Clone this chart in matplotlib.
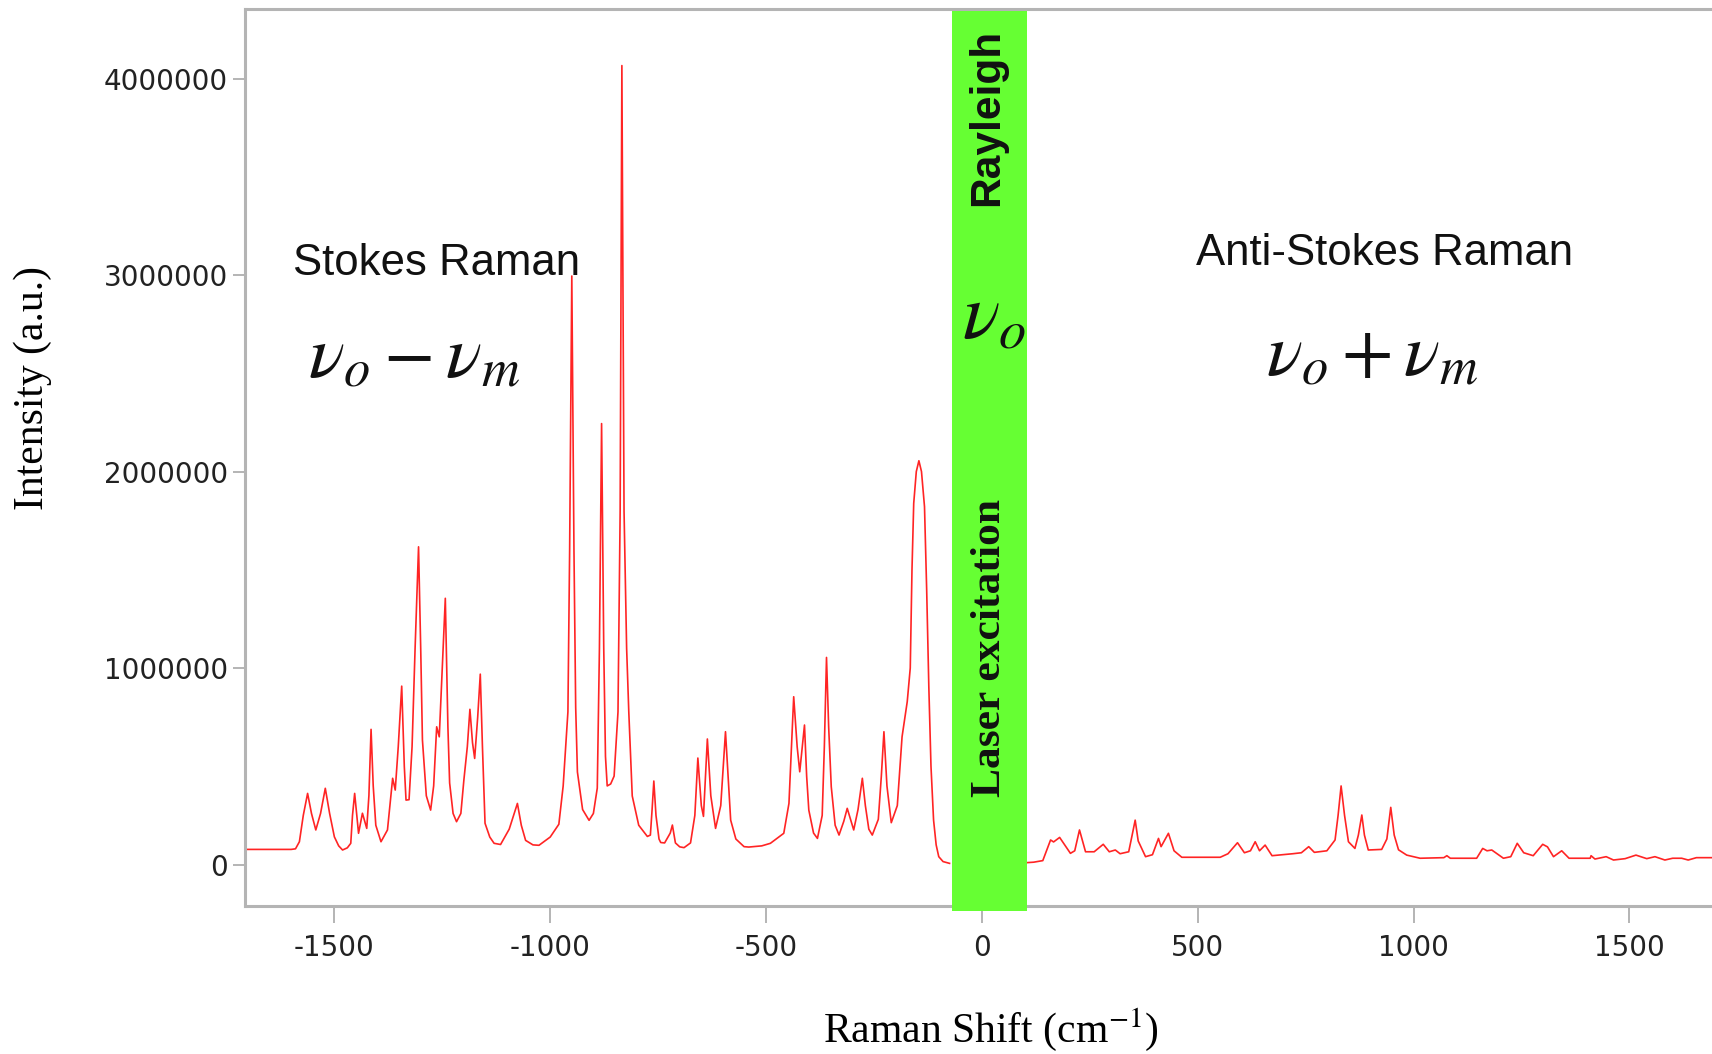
import numpy as np
import matplotlib.pyplot as plt

plt.rcParams.update({
    "mathtext.fontset": "stix",
    "axes.unicode_minus": False,
})

# Raman spectrum trace: shift in cm-1, intensity in thousands of counts
shift = [
    -1760, -1600, -1590, -1581, -1572, -1562, -1553, -1543, -1532, -1521,
    -1511, -1500, -1490, -1481, -1470, -1462, -1458, -1453, -1448, -1444,
    -1435, -1425, -1420, -1415, -1410, -1404, -1392, -1377, -1365, -1359,
    -1352, -1344, -1338, -1334, -1327, -1320, -1313, -1305, -1300, -1296,
    -1287, -1277, -1270, -1263, -1257, -1250, -1243, -1237, -1233, -1225,
    -1217, -1207, -1200, -1192, -1186, -1180, -1175, -1168, -1162, -1157,
    -1151, -1140, -1130, -1115, -1095, -1076, -1067, -1057, -1040, -1026,
    -1000, -980, -970, -959, -955, -950, -945, -941, -937, -925,
    -910, -900, -891, -886, -881, -876, -872, -868, -860, -852,
    -843, -838, -834, -829, -823, -818, -810, -795, -775, -768,
    -764, -760, -755, -748, -744, -735, -722, -717, -710, -700,
    -690, -675, -665, -658, -650, -645, -636, -628, -617, -605,
    -594, -588, -582, -570, -551, -540, -510, -490, -459, -447,
    -436, -428, -422, -411, -406, -401, -390, -381, -370, -365,
    -360, -355, -349, -340, -331, -320, -312, -297, -287, -277,
    -270, -262, -254, -240, -233, -227, -220, -210, -196, -185,
    -173, -166, -162, -158, -152, -146, -140, -133, -128, -123,
    -118, -112, -106, -100, -90, -75,
    100, 120, 141, 159, 166, 180, 205, 215, 226, 240,
    260, 281, 295, 309, 320, 340, 348, 355, 362, 379,
    395, 409, 415, 432, 445, 463, 552, 570, 592, 608,
    622, 633, 643, 656, 672, 720, 740, 757, 770, 799,
    818, 825, 832, 840, 849, 864, 872, 880, 886, 895,
    926, 938, 947, 955, 965, 984, 1015, 1070, 1077, 1085,
    1146, 1160, 1170, 1181, 1208, 1225, 1240, 1255, 1277, 1299,
    1310, 1324, 1343, 1360, 1409, 1411, 1420, 1446, 1463, 1490,
    1515, 1540, 1559, 1582, 1600, 1621, 1636, 1655, 1700, 1760,
]
intensity_k = [
    77, 77, 80, 116, 250, 362, 260, 176, 260, 388,
    260, 141, 95, 74, 85, 108, 250, 362, 250, 159,
    261, 184, 350, 688, 400, 200, 116, 176, 439, 379,
    600, 908, 500, 328, 330, 600, 1100, 1617, 1100, 634,
    350, 277, 400, 701, 650, 1000, 1355, 700, 415, 260,
    218, 260, 430, 600, 790, 620, 540, 750, 969, 600,
    210, 140, 108, 102, 180, 311, 200, 123, 100, 98,
    140, 205, 400, 777, 1600, 2995, 1600, 800, 471, 280,
    225, 260, 389, 1100, 2244, 1100, 550, 400, 410, 450,
    777, 1800, 4066, 1800, 1100, 777, 349, 200, 143, 150,
    280, 425, 250, 130, 112, 110, 160, 201, 110, 90,
    86, 110, 250, 542, 300, 245, 639, 350, 184, 300,
    676, 450, 226, 130, 91, 89, 95, 108, 159, 311,
    854, 600, 472, 710, 450, 277, 160, 133, 250, 600,
    1054, 700, 396, 200, 150, 220, 286, 176, 280, 439,
    300, 180, 150, 230, 450, 676, 400, 213, 300, 650,
    829, 1000, 1500, 1838, 2000, 2055, 2000, 1821, 1400, 905,
    500, 226, 100, 40, 15, 6,
    9, 12, 20, 125, 115, 138, 57, 70, 176, 65,
    65, 103, 65, 74, 55, 65, 150, 226, 120, 40,
    50, 133, 91, 159, 70, 37, 37, 55, 111, 60,
    70, 116, 70, 99, 45, 55, 60, 91, 62, 70,
    125, 250, 400, 250, 116, 82, 150, 252, 150, 74,
    77, 130, 291, 150, 75, 48, 32, 35, 45, 32,
    32, 82, 70, 74, 32, 40, 108, 60, 45, 103,
    90, 40, 70, 32, 32, 45, 28, 40, 23, 30,
    48, 30, 40, 23, 32, 32, 23, 35, 35, 35,
]
# the Rayleigh line region is masked, so the trace breaks across it
gap_after = -75

x_ticks = [-1500, -1000, -500, 0, 500, 1000, 1500]
x_tick_labels = ["-1500", "-1000", "-500", "0", "500", "1000", "1500"]
y_ticks = [0, 1000000, 2000000, 3000000, 4000000]
y_tick_labels = ["0", "1000000", "2000000", "3000000", "4000000"]

rayleigh_band = (-69, 104)

x = np.array(shift, dtype=float)
y = np.array(intensity_k, dtype=float) * 1000
split = np.searchsorted(x, gap_after, side="right")

fig = plt.figure(figsize=(17.12, 10.54), dpi=100)
ax = fig.add_axes([245 / 1712, 1 - 906 / 1054, 1495 / 1712, 897 / 1054])

ax.plot(x[:split], y[:split], color="#ff2424", lw=1.2, zorder=2)
ax.plot(x[split:], y[split:], color="#ff2424", lw=1.2, zorder=2)

ax.axvspan(*rayleigh_band, ymin=-0.006, ymax=0.998, color="#66ff33",
           lw=0, zorder=2.6, clip_on=False)

ax.set_xlim(-1707, 1756)
ax.set_ylim(-211000, 4354000)
ax.set_xticks(x_ticks)
ax.set_xticklabels(x_tick_labels)
ax.set_yticks(y_ticks)
ax.set_yticklabels(y_tick_labels)

for side in ("left", "bottom", "top"):
    ax.spines[side].set_color("#b4b4b4")
    ax.spines[side].set_linewidth(2.2)
ax.spines["right"].set_visible(False)

ax.tick_params(axis="y", length=8.6, width=1.2, color="#a8a8a8", pad=3.6,
               labelsize=20, labelcolor="#222222")
ax.tick_params(axis="x", length=12, width=1.2, color="#a8a8a8", pad=8,
               labelsize=20, labelcolor="#222222")

ax.set_xlabel("Raman Shift (cm$^{-1}$)", family="Liberation Serif",
              fontsize=30, va="center")
ax.xaxis.set_label_coords(0.499, -0.138)
ax.set_ylabel("Intensity (a.u.)", family="Liberation Serif", fontsize=30,
              va="center")
ax.yaxis.set_label_coords(-0.142, 0.577)

# region annotations
sans = "Liberation Sans"
ax.text(-1595, 3.0e6, "Stokes Raman", family=sans, fontsize=31.5,
        ha="left", va="baseline", color="#111111", zorder=4)
ax.text(495, 3.05e6, "Anti-Stokes Raman", family=sans, fontsize=31.5,
        ha="left", va="baseline", color="#111111", zorder=4)
ax.text(-1562, 2.48e6, r"$\nu_o - \nu_m$", fontsize=54,
        ha="left", va="baseline", color="#111111", zorder=4)
ax.text(657, 2.49e6, r"$\nu_o + \nu_m$", fontsize=54,
        ha="left", va="baseline", color="#111111", zorder=4)

ax.text(12, 3.8e6, "Rayleigh", family=sans, fontweight="bold",
        fontsize=30.5, rotation=90, ha="center", va="center",
        color="#111111", zorder=4)
ax.text(-45, 2.68e6, r"$\nu_o$", fontsize=56, ha="left", va="baseline",
        color="#111111", zorder=4)
ax.text(18, 1.104e6, "Laser excitation", family="Liberation Serif",
        fontweight="bold", fontsize=31.3, rotation=90, ha="center",
        va="center", color="#111111", zorder=4)

fig.savefig("out.png", dpi=100)
